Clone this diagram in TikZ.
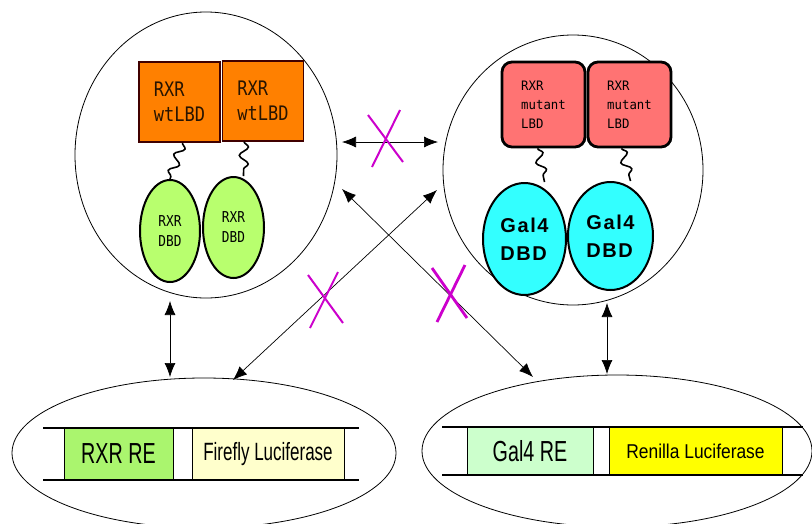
\documentclass[tikz,border=0pt]{standalone}
\usepackage{fontspec}
\setmainfont{Liberation Sans}
\newfontfamily\monof[FakeStretch=0.85]{DejaVu Sans Mono}
\newfontfamily\monon[FakeStretch=0.95]{DejaVu Sans Mono}
\newfontfamily\narrowf[FakeStretch=0.68]{Liberation Sans}
\newfontfamily\renf[FakeStretch=0.87]{Liberation Sans}
\newfontfamily\boldsp[LetterSpace=8]{Liberation Sans Bold}
\usetikzlibrary{shapes.geometric,arrows.meta,decorations.pathmorphing}
\definecolor{orangeC}{RGB}{255,128,0}
\definecolor{brownC}{RGB}{64,0,0}
\definecolor{limeC}{RGB}{184,255,110}
\definecolor{salmonC}{RGB}{255,115,115}
\definecolor{cyanC}{RGB}{51,255,255}
\definecolor{reA}{RGB}{170,245,110}
\definecolor{fireC}{RGB}{255,255,204}
\definecolor{galC}{RGB}{204,255,204}
\definecolor{renC}{RGB}{255,255,0}
\definecolor{magC}{RGB}{204,0,204}
\definecolor{txtC}{RGB}{40,20,0}
\begin{document}
\begin{tikzpicture}[x=1pt,y=-1pt,
  bigell/.style={draw, ellipse, line width=0.8pt, inner sep=0},
  lbd/.style={draw=brownC, fill=orangeC, line width=1.2pt, minimum width=81pt, minimum height=80pt, inner sep=0, align=left, text=txtC, font=\monof\fontsize{20}{25}\selectfont},
  mut/.style={draw, fill=salmonC, line width=2.8pt, rounded corners=10pt, minimum width=83pt, minimum height=85pt, inner sep=0, align=left, font=\monon\fontsize{13}{19}\selectfont},
  dbdg/.style={draw, ellipse, fill=limeC, line width=2pt, inner sep=0, align=left, font=\monof\fontsize{15}{20}\selectfont},
  dbdc/.style={draw, ellipse, fill=cyanC, line width=2pt, inner sep=0, align=left, font=\boldsp\fontsize{20}{28}\selectfont},
  seg/.style={draw, line width=0.8pt, inner sep=0},
  bar/.style={line width=2.4pt},
  arr/.style={{Latex[length=14pt,width=11pt]}-{Latex[length=14pt,width=11pt]}, line width=0.7pt},
  wiggle/.style={line width=1.6pt, decorate, decoration={snake, amplitude=4.5pt, segment length=17pt}},
  xmark/.style={draw=magC, line width=2pt}
]
\clip (0,0) rectangle (812,523);
\fill[white] (0,0) rectangle (812,523);

% big circles
\node[bigell, minimum width=262pt, minimum height=286pt] (L) at (206,155) {};
\node[bigell, minimum width=260pt, minimum height=270pt] (R) at (573,170) {};
\node[bigell, minimum width=384pt, minimum height=150pt] (BL) at (204,453) {};
\node[bigell, minimum width=390pt, minimum height=152pt] (BR) at (617,451) {};

% left complex
\node[lbd] (w1) at (179.5,102) {RXR\\wtLBD};
\node[lbd] (w2) at (263,101) {RXR\\wtLBD};
\node[dbdg, minimum width=60pt, minimum height=102pt] (g1) at (170,231) {RXR\\DBD};
\node[dbdg, minimum width=61pt, minimum height=101pt] (g2) at (233.5,227.5) {RXR\\DBD};
\draw[wiggle] ([xshift=3pt]w1.south) -- (g1.north);
\draw[wiggle] ([xshift=-19pt]w2.south) -- ([xshift=10pt]g2.north);

% right complex
\node[mut] (m1) at (543.5,104.5) {RXR\\mutant\\LBD};
\node[mut] (m2) at (629.5,104.5) {RXR\\mutant\\LBD};
\node[dbdc, minimum width=83pt, minimum height=112pt] (c1) at (524.5,239) {Gal4\\DBD};
\node[dbdc, minimum width=85pt, minimum height=108pt] (c2) at (610.5,236) {Gal4\\DBD};
\draw[wiggle] ([xshift=-6pt]m1.south) -- ([xshift=20pt]c1.north);
\draw[wiggle] ([xshift=-8pt]m2.south) -- ([xshift=20pt]c2.north);

% left reporter
\node[seg, fill=reA, minimum width=109pt, minimum height=52pt, font=\narrowf\fontsize{29}{30}\selectfont] (rre) at (118.5,454) {RXR RE};
\node[seg, fill=white, minimum width=19pt, minimum height=52pt] (gp1) at (182.5,454) {};
\node[seg, fill=fireC, minimum width=152pt, minimum height=52pt, font=\narrowf\fontsize{25}{26}\selectfont] (ff) at (268,454) {Firefly Luciferase};
\coordinate (b1a) at (43,428); \coordinate (b1b) at (359,428);
\coordinate (b1c) at (43,480); \coordinate (b1d) at (359,480);
\draw[bar] (b1a) -- (b1b);
\draw[bar] (b1c) -- (b1d);

% right reporter
\node[seg, fill=galC, minimum width=126pt, minimum height=48pt, font=\narrowf\fontsize{29}{30}\selectfont] (gre) at (530,451) {Gal4 RE};
\node[seg, fill=white, minimum width=16pt, minimum height=48pt] (gp2) at (601,451) {};
\node[seg, fill=renC, minimum width=173pt, minimum height=48pt, font=\renf\fontsize{20}{22}\selectfont] (ren) at (695.5,451) {Renilla Luciferase};
\coordinate (b2a) at (442,427); \coordinate (b2b) at (803,427);
\coordinate (b2c) at (442,475); \coordinate (b2d) at (803,475);
\draw[bar] (b2a) -- (b2b);
\draw[bar] (b2c) -- (b2d);

% arrows
\coordinate (v1a) at (170,301); \coordinate (v1b) at (170,377);
\coordinate (v2a) at (607,303); \coordinate (v2b) at (607,374);
\coordinate (ha) at (342,142); \coordinate (hb) at (438,142);
\coordinate (d1a) at (342,189); \coordinate (d1b) at (533,377);
\coordinate (d2a) at (437,190); \coordinate (d2b) at (233,380);
\draw[arr] (v1a) -- (v1b);
\draw[arr] (v2a) -- (v2b);
\draw[arr] (ha) -- (hb);
\draw[arr] (d1a) -- (d1b);
\draw[arr] (d2a) -- (d2b);

% crosses
\draw[xmark] (368,115) -- (403,162);
\draw[xmark] (400,110) -- (372,167);
\draw[xmark] (308,275) -- (343,323);
\draw[xmark] (338,272) -- (310,328);
\draw[xmark, line width=2.8pt] (432,268) -- (467,318);
\draw[xmark, line width=2.8pt] (465,265) -- (437,322);
\end{tikzpicture}
\end{document}
